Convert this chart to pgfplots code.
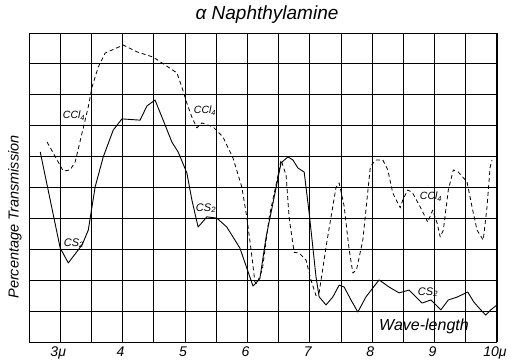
\documentclass[border=0pt]{standalone}
\usepackage{fontspec}
\setmainfont{Liberation Sans}
\usepackage{pgfplots}
\pgfplotsset{compat=1.18}
\begin{document}
\begin{tikzpicture}[x=1pt,y=1pt]
\useasboundingbox[fill=white] (0,0) rectangle (512,360);
\begin{axis}[at={(29pt,18pt)}, anchor=south west, scale only axis,
  width=468pt, height=309pt,
  xmin=2.5, xmax=10, ymin=0, ymax=100,
  xtick={3,4,5,6,7,8,9,10},
  xticklabels={3μ,4,5,6,7,8,9,10μ},
  minor xtick={3.5,4.5,5.5,6.5,7.5,8.5,9.5},
  ytick={10,20,30,40,50,60,70,80,90}, yticklabels={},
  major tick length=0pt, minor tick length=0pt,
  grid=both,
  major grid style={black, line width=0.9pt},
  minor grid style={black, line width=0.9pt},
  axis line style={black, line width=1pt},
  xticklabel style={font=\itshape\fontsize{14}{14}\selectfont, xshift=-2pt, yshift=-1pt},
  clip=false]
% CS2 (solid)
\addplot[black, line width=0.9pt, line join=round] coordinates {
(2.68,61.5) (3.00,30.4) (3.13,25.6) (3.35,31.4) (3.45,36.2) (3.56,50.2) (3.69,59.9)
(3.85,68.6) (3.99,72.2) (4.28,71.8) (4.39,76.4) (4.52,78.3) (4.65,71.8) (4.79,64.7)
(4.89,61.5) (5.03,54.7) (5.11,46.0) (5.21,37.2) (5.35,40.5) (5.51,40.1) (5.67,37.2)
(5.88,30.4) (6.04,21.0) (6.09,18.1) (6.20,20.5) (6.30,34.0) (6.41,45.0) (6.54,58.0)
(6.65,59.9) (6.73,58.9) (6.81,56.3) (6.91,55.0) (6.99,41.7) (7.10,21.0) (7.15,14.6)
(7.26,12.0) (7.37,14.6) (7.47,18.4) (7.55,17.8) (7.66,13.6) (7.77,9.7) (7.90,14.6)
(8.11,20.1) (8.27,17.8) (8.43,15.9) (8.59,16.8) (8.70,14.6) (8.80,12.6) (8.94,13.6)
(9.02,12.0) (9.10,10.4) (9.22,13.6) (9.37,14.6) (9.53,16.2) (9.63,12.9) (9.74,10.4)
(9.82,8.7) (9.90,10.4) (10.0,12.0)
};
% CCl4 (dashed)
\addplot[black, line width=0.8pt, dash pattern=on 4pt off 3pt, line join=round] coordinates {
(2.79,64.7) (3.05,55.3) (3.16,55.7) (3.24,58.3) (3.35,67.6) (3.45,76.1) (3.51,82.5)
(3.61,89.0) (3.72,93.5) (4.01,96.1) (4.23,93.9) (4.49,92.2) (4.87,87.1) (4.95,82.5)
(5.03,77.3) (5.11,72.8) (5.19,69.3) (5.27,70.9) (5.45,69.6) (5.61,66.3) (5.77,59.5)
(5.91,50.2) (5.99,40.5) (6.07,28.0) (6.12,19.5) (6.15,18.8) (6.24,23.5) (6.35,40.5)
(6.47,52.0) (6.54,58.9) (6.62,54.0) (6.67,40.0) (6.75,29.0) (6.83,28.8) (6.94,26.5)
(7.02,20.0) (7.10,15.0) (7.15,16.0) (7.27,32.0) (7.42,50.0) (7.47,51.5) (7.55,44.0)
(7.63,30.0) (7.69,22.3) (7.75,23.5) (7.85,33.0) (7.97,56.6) (8.05,58.9) (8.17,58.9)
(8.25,55.7) (8.33,48.2) (8.45,43.4) (8.49,46.0) (8.57,49.2) (8.64,48.5) (8.77,43.7)
(8.89,38.8) (8.97,42.7) (9.04,38.5) (9.09,34.0) (9.14,36.2) (9.22,49.2) (9.30,55.7)
(9.38,55.0) (9.52,51.8) (9.60,43.7) (9.68,36.2) (9.78,33.0) (9.84,43.7) (9.89,56.6)
(9.92,58.9)
};
\end{axis}
\node[font=\itshape\fontsize{19}{19}\selectfont] at (267,345) {α Naphthylamine};
\node[font=\itshape\fontsize{14.5}{14.5}\selectfont, rotate=90] at (15,143) {Percentage Transmission};
\node[font=\itshape\fontsize{16}{16}\selectfont] at (424,34) {Wave-length};
\node[font=\itshape\fontsize{10.5}{10.5}\selectfont] at (74,244) {CCl\textsubscript{4}};
\node[font=\itshape\fontsize{10.5}{10.5}\selectfont] at (205,249) {CCl\textsubscript{4}};
\node[font=\itshape\fontsize{10.5}{10.5}\selectfont] at (431,163) {CCl\textsubscript{4}};
\node[font=\itshape\fontsize{11}{11}\selectfont] at (74,117) {CS\textsubscript{2}};
\node[font=\itshape\fontsize{11}{11}\selectfont] at (206,152) {CS\textsubscript{2}};
\node[font=\itshape\fontsize{11}{11}\selectfont] at (428,68) {CS\textsubscript{2}};
\end{tikzpicture}
\end{document}
